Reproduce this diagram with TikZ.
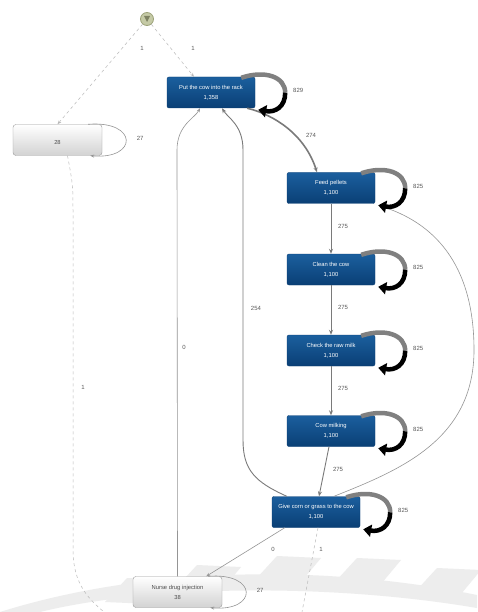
\documentclass[tikz,border=0pt]{standalone}
\usepackage{fontspec}
\setmainfont{Liberation Sans}
\usetikzlibrary{arrows.meta,calc}
\definecolor{bluetop}{HTML}{1B5F9E}
\definecolor{bluebot}{HTML}{0A3F75}
\definecolor{edgegray}{HTML}{7A7A7A}
\definecolor{startfill}{HTML}{C5CAA6}
\definecolor{startdraw}{HTML}{9DA37A}
\tikzset{
  act/.style={rectangle, rounded corners=2pt, minimum width=88pt, minimum height=31pt,
    top color=bluetop, bottom color=bluebot, draw=bluebot, text=white,
    font=\fontsize{5.8}{7}\selectfont, align=center, inner sep=1pt},
  gact/.style={rectangle, rounded corners=3pt, minimum width=89pt, minimum height=31pt,
    top color=white, bottom color=gray!35, draw=gray!80, text=black!70,
    font=\fontsize{5.8}{7}\selectfont, align=center, inner sep=1pt},
  lbl/.style={font=\fontsize{6}{7}\selectfont, text=black!65, inner sep=1pt},
  edge/.style={draw=edgegray, line width=0.9pt, -{Stealth[length=5pt,width=4pt]}},
  thinedge/.style={draw=edgegray!80, line width=0.6pt, -{Stealth[length=4pt,width=3pt]}},
  dedge/.style={draw=gray!55, line width=0.5pt, dashed, -{Stealth[length=4pt,width=3pt]}},
  loopup/.style={draw=black!50, line width=4.5pt},
  loopdn/.style={draw=black, line width=4.5pt, -{Triangle[length=8pt,width=12pt]}},
  wm/.style={fill=gray!14, draw=none}
}
\newcommand{\bigloop}[2]{%
  \draw[loopup] ($(#1.north east)+(-14,1)$) .. controls ($(#1.north east)+(10,-7)$) and ($(#1.north east)+(30,0)$) .. ($(#1.north east)+(30,16)$);
  \draw[loopdn] ($(#1.north east)+(30,16)$) .. controls ($(#1.north east)+(30,30)$) and ($(#1.north east)+(20,36)$) .. ($(#1.north east)+(3,33)$);
  \node[lbl] at ($(#1.north east)+(43,14)$) {#2};
}
\newcommand{\smallloop}[2]{%
  \draw[thinedge] ($(#1.north east)+(-14,0)$) .. controls ($(#1.north east)+(36,-4)$) and ($(#1.south east)+(36,4)$) .. ($(#1.south east)+(-12,0)$);
  \node[lbl] at ($(#1.north east)+(38,14)$) {#2};
}
\begin{document}
\begin{tikzpicture}[x=1pt,y=-1pt]
\useasboundingbox (0,0) rectangle (477,612);
\fill[white] (0,0) rectangle (477,612);
% watermark
\fill[wm] (0,612) .. controls (150,565) and (330,565) .. (477,595) -- (477,608) .. controls (330,583) and (150,585) .. (40,612) -- cycle;
\foreach \x/\y in {105/578, 175/565, 255/556, 335/558, 415/568} {
  \fill[wm] (\x,\y+24) -- (\x+22,\y) -- (\x+66,\y+2) -- (\x+46,\y+26) -- cycle;
}
% start
\node[circle, minimum size=13pt, inner sep=0pt, fill=startfill, draw=startdraw, line width=0.8pt] (start) at (147,19) {};
\fill[startdraw!80!black] (144,16) -- (150,16) -- (147,22) -- cycle;
% nodes
\node[gact] (left) at (57.5,140) {\\[2pt]28};
\node[act] (put) at (211,92.5) {Put the cow into the rack\\[3pt]1,358};
\node[act] (feed) at (331,188) {Feed pellets\\[3pt]1,100};
\node[act] (clean) at (331,269.5) {Clean the cow\\[3pt]1,100};
\node[act] (check) at (331,350.5) {Check the raw milk\\[3pt]1,100};
\node[act] (milk) at (331,431) {Cow milking\\[3pt]1,100};
\node[act] (give) at (316,512) {Give corn or grass to the cow\\[3pt]1,100};
\node[gact] (drug) at (177.5,592) {Nurse drug injection\\[3pt]38};
% start edges
\draw[dedge] (start) -- (left.north);
\node[lbl] at (142,48) {1};
\draw[dedge] (start) -- ($(put.north)+(-17,0)$);
\node[lbl] at (193,48) {1};
% left dashed exit
\coordinate (lout) at (104,612);
\draw[draw=gray!55, line width=0.5pt, dashed] ($(left.south)+(10,0)$) .. controls (73,185) .. (73,215) -- (73,550) .. controls (73,585) and (90,600) .. (lout);
\node[lbl] at (83,387) {1};
% main flow
\draw[edge, line width=1.6pt] ($(put.south east)+(-8,0)$) .. controls (275,115) and (305,135) .. ($(feed.north)+(-14,0)$);
\node[lbl] at (311,135) {274};
\draw[edge] (feed) -- (clean);
\node[lbl] at (343,226) {275};
\draw[edge] (clean) -- (check);
\node[lbl] at (343,307) {275};
\draw[edge] (check) -- (milk);
\node[lbl] at (343,388) {275};
\draw[edge] ($(milk.south)+(-2,0)$) -- ($(give.north)+(3,0)$);
\node[lbl] at (338,469) {275};
% back edges
\draw[edge] ($(give.north west)+(15,0)$) .. controls (255,482) and (243,470) .. (243,440) -- (243,150) .. controls (243,125) and (228,118) .. ($(put.south)+(11,0)$);
\node[lbl] at (256,308) {254};
\draw[thinedge] ($(drug.north)+(0,0)$) -- (177,150) .. controls (177,125) and (195,118) .. ($(put.south)+(-11,0)$);
\node[lbl] at (184,347) {0};
\draw[thinedge] ($(give.north)+(18,0)$) .. controls (400,470) and (474,440) .. (474,350) .. controls (474,262) and (432,222) .. ($(feed.south east)+(4,2)$);
% give to drug
\draw[thinedge] ($(give.south west)+(13,0)$) -- ($(drug.north east)+(-16,0)$);
\node[lbl] at (273,549) {0};
\coordinate (gout) at (302,612);
\draw[draw=gray!55, line width=0.5pt, dashed] ($(give.south)+(2,0)$) -- (gout);
\node[lbl] at (321,549) {1};
% self loops
\bigloop{put}{829}
\bigloop{feed}{825}
\bigloop{clean}{825}
\bigloop{check}{825}
\bigloop{milk}{825}
\bigloop{give}{825}
\smallloop{left}{27}
\smallloop{drug}{27}
\end{tikzpicture}
\end{document}
